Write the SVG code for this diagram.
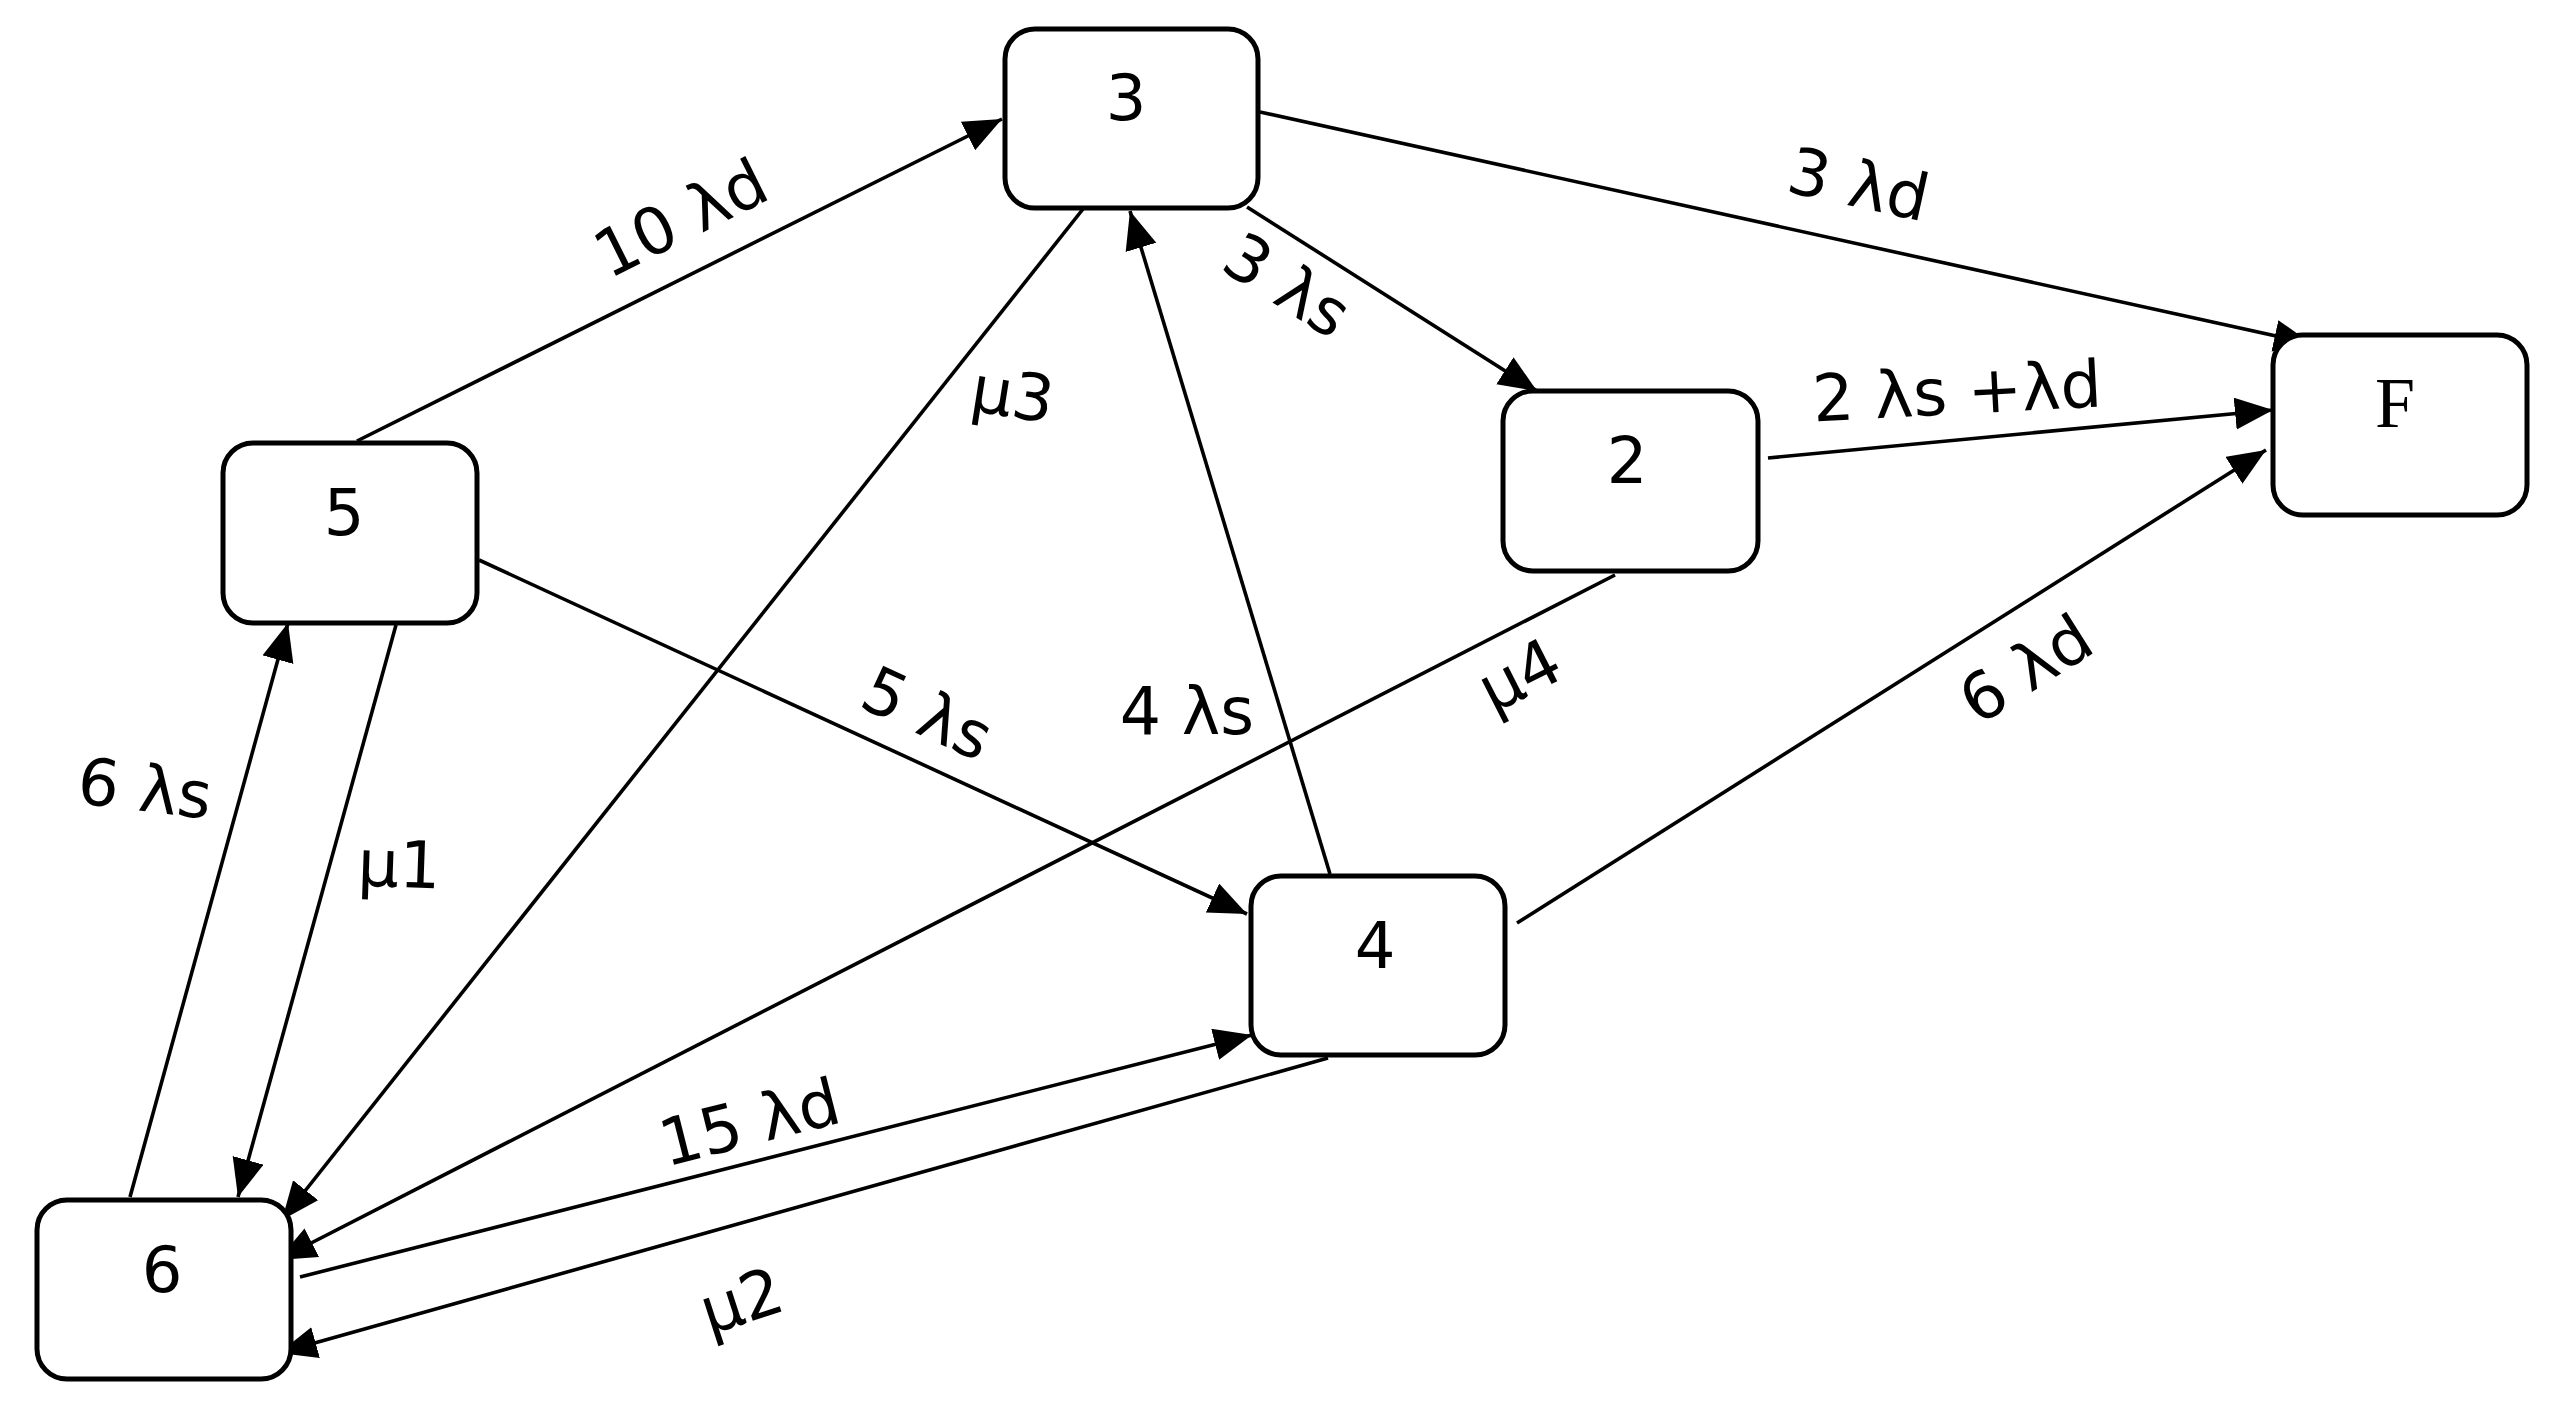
<svg xmlns="http://www.w3.org/2000/svg" width="2567" height="1410" viewBox="0 0 2567 1410">
<style>
.box{fill:#fff;stroke:#000;stroke-width:5}
.nl{font-family:"DejaVu Sans",Verdana,sans-serif;font-size:64px;fill:#000;text-anchor:middle}
.nf{font-family:"Liberation Serif","Times New Roman",serif;font-size:72px;fill:#000;text-anchor:middle}
.e{stroke:#000;stroke-width:3.6;fill:none;marker-end:url(#ah)}
.lb{font-family:"DejaVu Sans",Verdana,sans-serif;font-size:65px;fill:#000;text-anchor:middle}
</style>
<defs>
<marker id="ah" markerUnits="userSpaceOnUse" markerWidth="40" markerHeight="34" refX="38" refY="16" orient="auto">
<path d="M0,0 L38,16 L0,32 z" fill="#000"/>
</marker>
</defs>
<rect width="2567" height="1410" fill="#fff"/>
<g id="connectors">
<line class="e" x1="357" y1="441" x2="1002" y2="119"/>
<line class="e" x1="1260" y1="112" x2="2312" y2="344"/>
<line class="e" x1="1247" y1="207" x2="1537" y2="391"/>
<line class="e" x1="1768" y1="458" x2="2273" y2="410"/>
<line class="e" x1="1517" y1="923" x2="2266" y2="450"/>
<line class="e" x1="1330" y1="874" x2="1130" y2="211"/>
<line class="e" x1="1083" y1="209" x2="282" y2="1220"/>
<line class="e" x1="479" y1="560" x2="1247" y2="914"/>
<line class="e" x1="1615" y1="575" x2="278" y2="1260"/>
<line class="e" x1="130" y1="1197" x2="288" y2="623"/>
<line class="e" x1="396" y1="625" x2="238" y2="1197"/>
<line class="e" x1="300" y1="1277" x2="1252" y2="1035"/>
<line class="e" x1="1328" y1="1058" x2="279" y2="1353"/>
<g id="labels">
<text class="lb" transform="translate(680,217) rotate(-26.5)" y="24">10 λd</text>
<text class="lb" transform="translate(1859,183) rotate(12.4)" y="24">3 λd</text>
<text class="lb" transform="translate(1288,284) rotate(32.4)" y="24">3 λs</text>
<text class="lb" transform="translate(1957,390) rotate(-3)" y="24">2 λs +λd</text>
<text class="lb" transform="translate(2025,668) rotate(-32.3)" y="24">6 λd</text>
<text class="lb" x="1187" y="734">4 λs</text>
<text class="lb" transform="translate(1012,400) rotate(9)" y="17">μ3</text>
<text class="lb" transform="translate(928,712) rotate(24.7)" y="24">5 λs</text>
<text class="lb" transform="translate(1522,680) rotate(-27)" y="17">μ4</text>
<text class="lb" transform="translate(145,787) rotate(7)" y="24">6 λs</text>
<text class="lb" transform="translate(399,870) rotate(2)" y="17">μ1</text>
<text class="lb" transform="translate(749,1121) rotate(-14.2)" y="24">15 λd</text>
<text class="lb" transform="translate(743,1306) rotate(-18)" y="17">μ2</text>
</g>
</g>
<g id="node-3"><rect class="box" x="1005" y="29" width="253" height="179" rx="30"/><text class="nl" x="1126" y="120">3</text></g>
<g id="node-5"><rect class="box" x="223" y="443" width="254" height="180" rx="30"/><text class="nl" x="344" y="535">5</text></g>
<g id="node-2"><rect class="box" x="1503" y="391" width="255" height="180" rx="30"/><text class="nl" x="1627" y="483">2</text></g>
<g id="node-F"><rect class="box" x="2273" y="335" width="254" height="180" rx="30"/><text class="nf" x="2395" y="427">F</text></g>
<g id="node-4"><rect class="box" x="1251" y="876" width="254" height="179" rx="30"/><text class="nl" x="1375" y="968">4</text></g>
<g id="node-6"><rect class="box" x="37" y="1200" width="254" height="179" rx="30"/><text class="nl" x="162" y="1292">6</text></g>
</svg>
